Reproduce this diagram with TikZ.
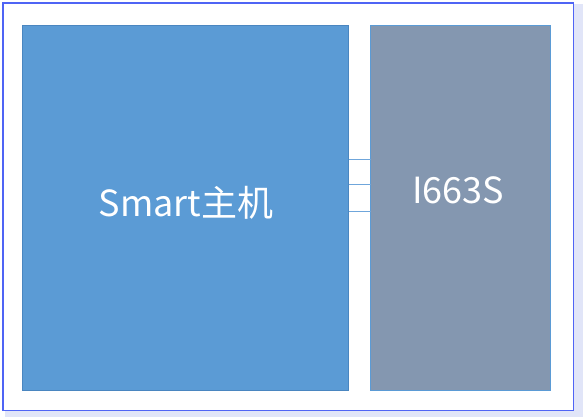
\documentclass[tikz,border=0pt]{standalone}
\usepackage{fontspec}
\setmainfont{Noto Sans CJK SC}
\definecolor{frameblue}{HTML}{4F64F5}
\definecolor{shadowc}{HTML}{E1E5F8}
\definecolor{hostfill}{HTML}{5B9BD5}
\definecolor{hostdraw}{HTML}{4A86C0}
\definecolor{chipfill}{HTML}{8497B0}
\definecolor{chipdraw}{HTML}{5B9BD5}
\definecolor{linkc}{HTML}{6FA6DB}
\begin{document}
\begin{tikzpicture}[x=1pt,y=-1pt,
  box/.style={line width=1pt},
  lbl/.style={text=white},
  link/.style={draw=linkc,line width=1pt}]
\useasboundingbox (0,0) rectangle (583,417);
\fill[white] (0,0) rectangle (583,417);
% shadow
\fill[shadowc] (574,4) rectangle (583,417);
\fill[shadowc] (5,411) rectangle (583,417);
% outer frame
\draw[frameblue,line width=1.2pt] (3,3) rectangle (573.5,410.5);
% boxes
\draw[box,fill=hostfill,draw=hostdraw] (22,26) rectangle (348.5,390);
\draw[box,fill=chipfill,draw=chipdraw] (370.5,26) rectangle (550.5,390);
\node[lbl,font=\fontsize{36}{40}\selectfont] (host) at (186,203) {Smart主机};
\node[lbl,font=\fontsize{36}{40}\selectfont] (chip) at (458,190) {I663S};
\coordinate (h1) at (348.5,159); \coordinate (c1) at (370.5,159);
\coordinate (h2) at (348.5,184.5); \coordinate (c2) at (370.5,184.5);
\coordinate (h3) at (348.5,211.5); \coordinate (c3) at (370.5,211.5);
\draw[link] (h1) -- (c1);
\draw[link] (h2) -- (c2);
\draw[link] (h3) -- (c3);
\end{tikzpicture}
\end{document}
